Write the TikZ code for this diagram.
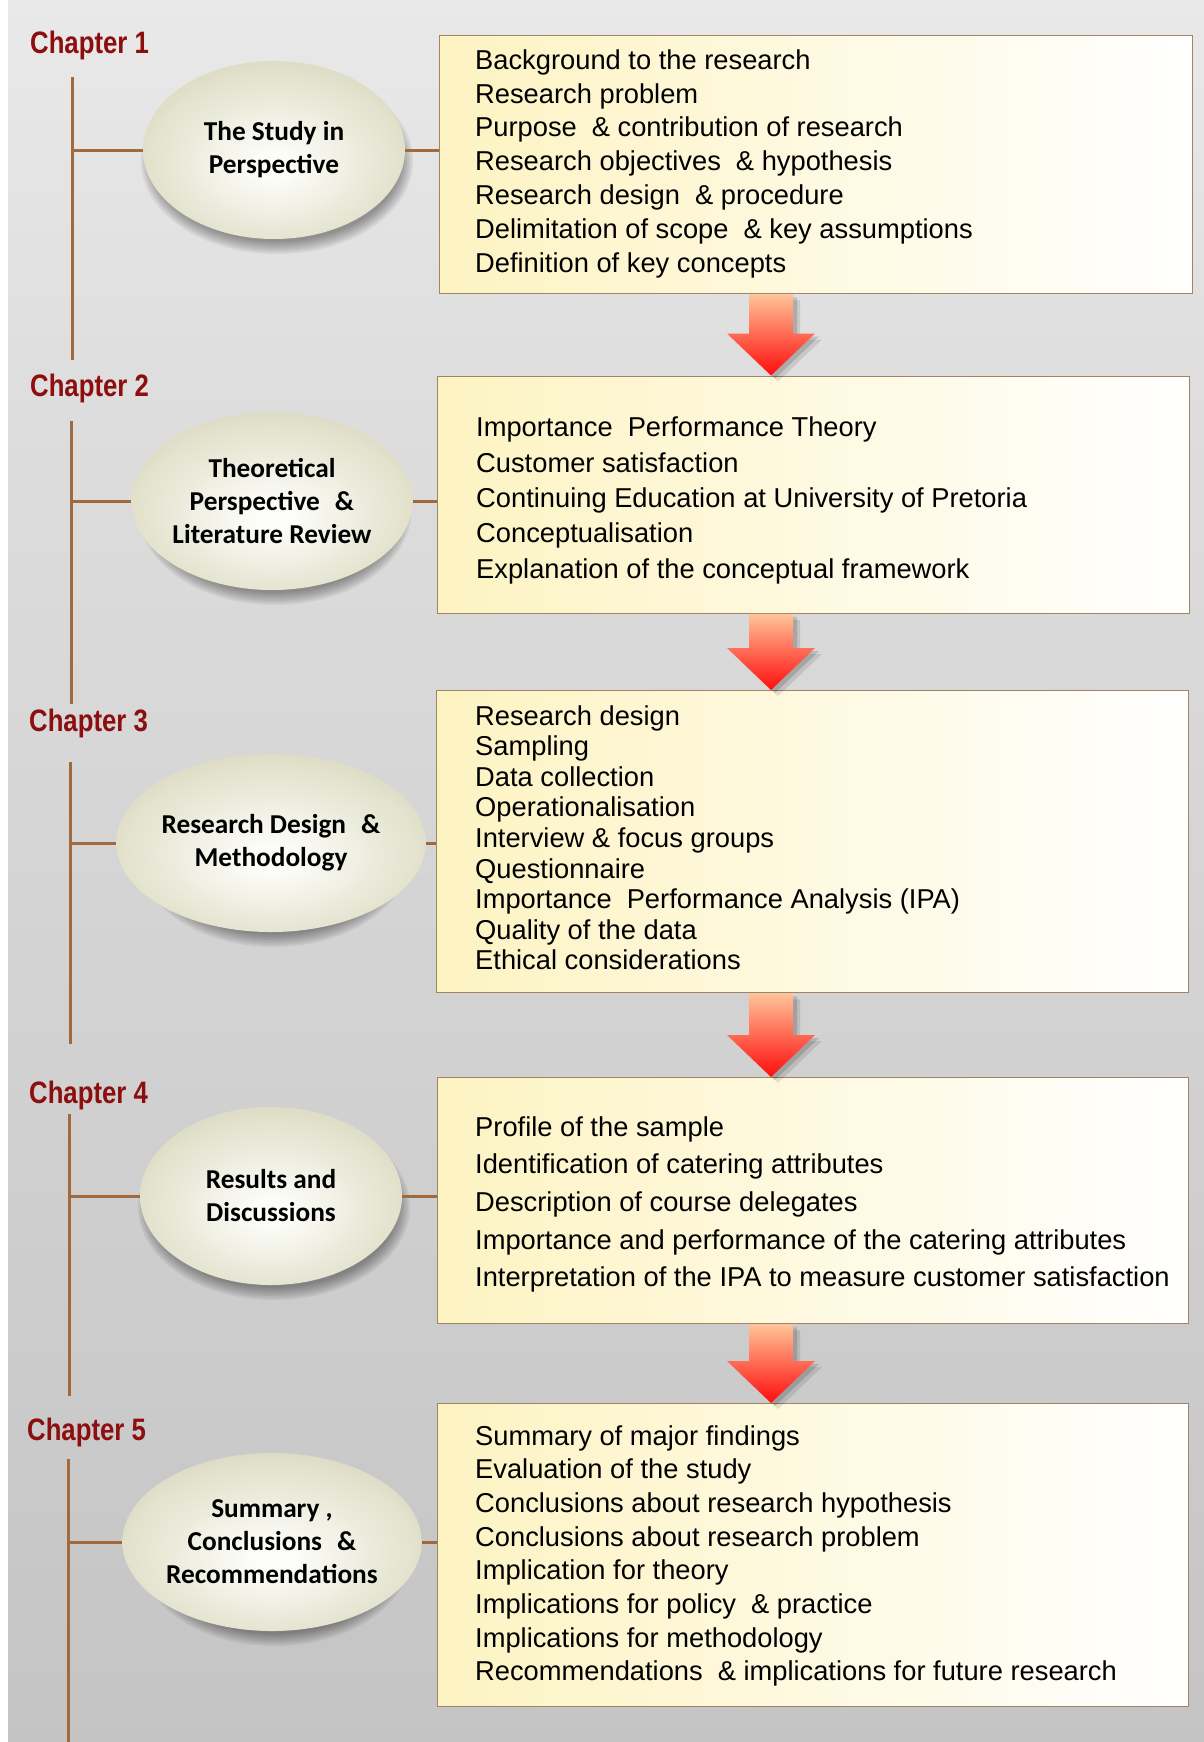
\documentclass[tikz,border=0pt]{standalone}
\usepackage{fontspec}
\setmainfont{Liberation Sans}
\newfontfamily\chapfont[FakeStretch=0.83]{Liberation Sans}
\newfontfamily\ovalfont{Carlito}
\usetikzlibrary{shapes.geometric,calc}

% palette
\definecolor{chapred}{RGB}{140,14,14}
\definecolor{branch}{RGB}{160,106,62}
\definecolor{boxline}{RGB}{160,132,100}
\definecolor{boxleft}{RGB}{253,243,194}
\definecolor{ovalin}{RGB}{252,252,248}
\definecolor{ovalmid}{RGB}{226,226,205}
\definecolor{ovalout}{RGB}{188,188,152}
\definecolor{arrowtop}{RGB}{255,196,152}
\definecolor{arrowbot}{RGB}{255,12,12}
\definecolor{bgA}{RGB}{178,178,178}
\definecolor{bgB}{RGB}{193,193,193}
\definecolor{bgC}{RGB}{208,208,208}
\definecolor{bgD}{RGB}{221,221,221}
\definecolor{bgE}{RGB}{236,236,236}
\definecolor{bgF}{RGB}{243,243,243}

\pgfdeclareverticalshading{pagebg}{100bp}{color(0bp)=(bgA); color(20bp)=(bgB); color(43bp)=(bgC); color(63bp)=(bgD); color(78bp)=(bgE); color(100bp)=(bgF)}
\pgfdeclareradialshading{ovalshade}{\pgfpoint{0bp}{-5bp}}{color(0bp)=(ovalin); color(4bp)=(ovalin); color(24bp)=(ovalmid); color(50bp)=(ovalout)}

\newcommand\itemfont[1]{\fontsize{27.3}{#1}\selectfont}
\newcommand\widesp{\hspace{0.55em}}

% block arrow outline from shaft top #1 to tip #2
\newcommand\arrowshape[2]{($(#1)+(-22,0)$) -- ($(#1)+(22,0)$) -- ($(#2)+(22,-42)$) -- ($(#2)+(44,-42)$) -- (#2) -- ($(#2)+(-44,-42)$) -- ($(#2)+(-22,-42)$) -- cycle}
\newcommand\flowarrow[2]{%
  \path ($(#1)+(7,6)$) coordinate (#1s1) ($(#2)+(7,6)$) coordinate (#1s2);
  \path ($(#1)+(4,3)$) coordinate (#1s3) ($(#2)+(4,3)$) coordinate (#1s4);
  \fill[black,opacity=0.10] \arrowshape{#1s1}{#1s2};
  \fill[black,opacity=0.14] \arrowshape{#1s3}{#1s4};
  \shade[arrowfill] \arrowshape{#1}{#2};}

% soft shadow under an oval centred at #1
\newcommand\ovalshadow[1]{%
  \foreach \k in {0,...,6}{
    \fill[black,opacity=0.06] ($(#1)+(3,11)$) ellipse [x radius={136pt-2pt*\k}, y radius={93pt-2pt*\k}];
  }}

\tikzset{
  chaplabel/.style={anchor=base west, inner sep=0, text=chapred, font=\chapfont\bfseries\fontsize{31}{36}\selectfont},
  spine/.style={draw=branch, line width=3pt},
  oval/.style={ellipse, shade, shading=ovalshade, minimum width=262pt, minimum height=178pt, inner sep=0, align=center, font=\ovalfont\bfseries\fontsize{27.3}{33}\selectfont},
  chapbox/.style={rectangle, draw=boxline, line width=1.3pt, left color=boxleft, right color=white, inner sep=0, anchor=north west},
  itemlist/.style={anchor=base west, inner sep=0},
  arrowfill/.style={top color=arrowtop, bottom color=arrowbot},
}

\begin{document}
\begin{tikzpicture}[x=1pt,y=-1pt]
\useasboundingbox (0,0) rectangle (1204,1742);
% page background
\shade[shading=pagebg] (8,0) rectangle (1204,1742);
\fill[white] (0,0) rectangle (8,1742);

% oval centres
\coordinate (o1) at (274,150);
\coordinate (o2) at (272,501);
\coordinate (o3) at (271,843);
\coordinate (o4) at (271,1196);
\coordinate (o5) at (272,1542);

% chapter labels
\node[chaplabel] (c1) at (30,53.3) {Chapter 1};
\node[chaplabel] (c2) at (30,396.7) {Chapter 2};
\node[chaplabel] (c3) at (29,731) {Chapter 3};
\node[chaplabel] (c4) at (29,1103) {Chapter 4};
\node[chaplabel] (c5) at (27,1440) {Chapter 5};

% content boxes
\node[chapbox, minimum width=753pt, minimum height=258pt] (b1) at (439,35) {};
\node[chapbox, minimum width=752pt, minimum height=237pt] (b2) at (436.5,375.5) {};
\node[chapbox, minimum width=752pt, minimum height=302pt] (b3) at (435.5,690) {};
\node[chapbox, minimum width=751pt, minimum height=246pt] (b4) at (436.5,1077) {};
\node[chapbox, minimum width=751pt, minimum height=303pt] (b5) at (436.5,1403) {};

% oval shadows
\ovalshadow{o1}
\ovalshadow{o2}
\ovalshadow{o3}
\ovalshadow{o4}
\ovalshadow{o5}

% ovals
\node[oval] (e1) at (o1) {The Study in\\Perspective};
\node[oval] (e2) at (o2) {Theoretical\\Perspective\widesp\&\\Literature Review};
\node[oval] (e3) at (o3) {Research Design\widesp\&\\Methodology};
\node[oval] (e4) at (o4) {Results and\\Discussions};
\node[oval] (e5) at (o5) {Summary ,\\Conclusions\widesp\&\\Recommendations};

% spines and branches
\coordinate (v1a) at (72,77);   \coordinate (v1b) at (72,360);
\coordinate (v2a) at (71,421);  \coordinate (v2b) at (71,704);
\coordinate (v3a) at (70,762);  \coordinate (v3b) at (70,1044);
\coordinate (v4a) at (69,1114); \coordinate (v4b) at (69,1396);
\coordinate (v5a) at (68,1459); \coordinate (v5b) at (68,1742);
\foreach \i in {1,...,5}{
  \draw[spine] (v\i a) -- (v\i b);
  \draw[spine] (v\i a |- e\i.west) -- (e\i.west);
  \draw[spine] (e\i.east) -- (e\i.east -| b\i.west);
}

% box contents
\node[itemlist, font=\itemfont{33.8}] (t1) at (475,69.3) {\begin{tabular}[t]{@{}l@{}}
Background to the research\\
Research problem\\
Purpose\widesp\& contribution of research\\
Research objectives\widesp\& hypothesis\\
Research design\widesp\& procedure\\
Delimitation of scope\widesp\& key assumptions\\
Definition of key concepts
\end{tabular}};
\node[itemlist, font=\itemfont{35.4}] (t2) at (476,436.7) {\begin{tabular}[t]{@{}l@{}}
Importance\widesp Performance Theory\\
Customer satisfaction\\
Continuing Education at University of Pretoria\\
Conceptualisation\\
Explanation of the conceptual framework
\end{tabular}};
\node[itemlist, font=\itemfont{30.6}] (t3) at (475,725) {\begin{tabular}[t]{@{}l@{}}
Research design\\
Sampling\\
Data collection\\
Operationalisation\\
Interview \& focus groups\\
Questionnaire\\
Importance\widesp Performance Analysis (IPA)\\
Quality of the data\\
Ethical considerations
\end{tabular}};
\node[itemlist, font=\itemfont{37.7}] (t4) at (475,1136) {\begin{tabular}[t]{@{}l@{}}
Profile of the sample\\
Identification of catering attributes\\
Description of course delegates\\
Importance and performance of the catering attributes\\
Interpretation of the IPA to measure customer satisfaction
\end{tabular}};
\node[itemlist, font=\itemfont{33.7}] (t5) at (475,1445) {\begin{tabular}[t]{@{}l@{}}
Summary of major findings\\
Evaluation of the study\\
Conclusions about research hypothesis\\
Conclusions about research problem\\
Implication for theory\\
Implications for policy\widesp\& practice\\
Implications for methodology\\
Recommendations\widesp\& implications for future research
\end{tabular}};

% arrows between boxes
\coordinate (a1) at (771,0 |- b1.south); \coordinate (a1t) at (a1 |- b2.north);
\coordinate (a2) at (771,0 |- b2.south); \coordinate (a2t) at (a2 |- b3.north);
\coordinate (a3) at (771,0 |- b3.south); \coordinate (a3t) at (a3 |- b4.north);
\coordinate (a4) at (771,0 |- b4.south); \coordinate (a4t) at (a4 |- b5.north);
\flowarrow{a1}{a1t}
\flowarrow{a2}{a2t}
\flowarrow{a3}{a3t}
\flowarrow{a4}{a4t}
\end{tikzpicture}
\end{document}
